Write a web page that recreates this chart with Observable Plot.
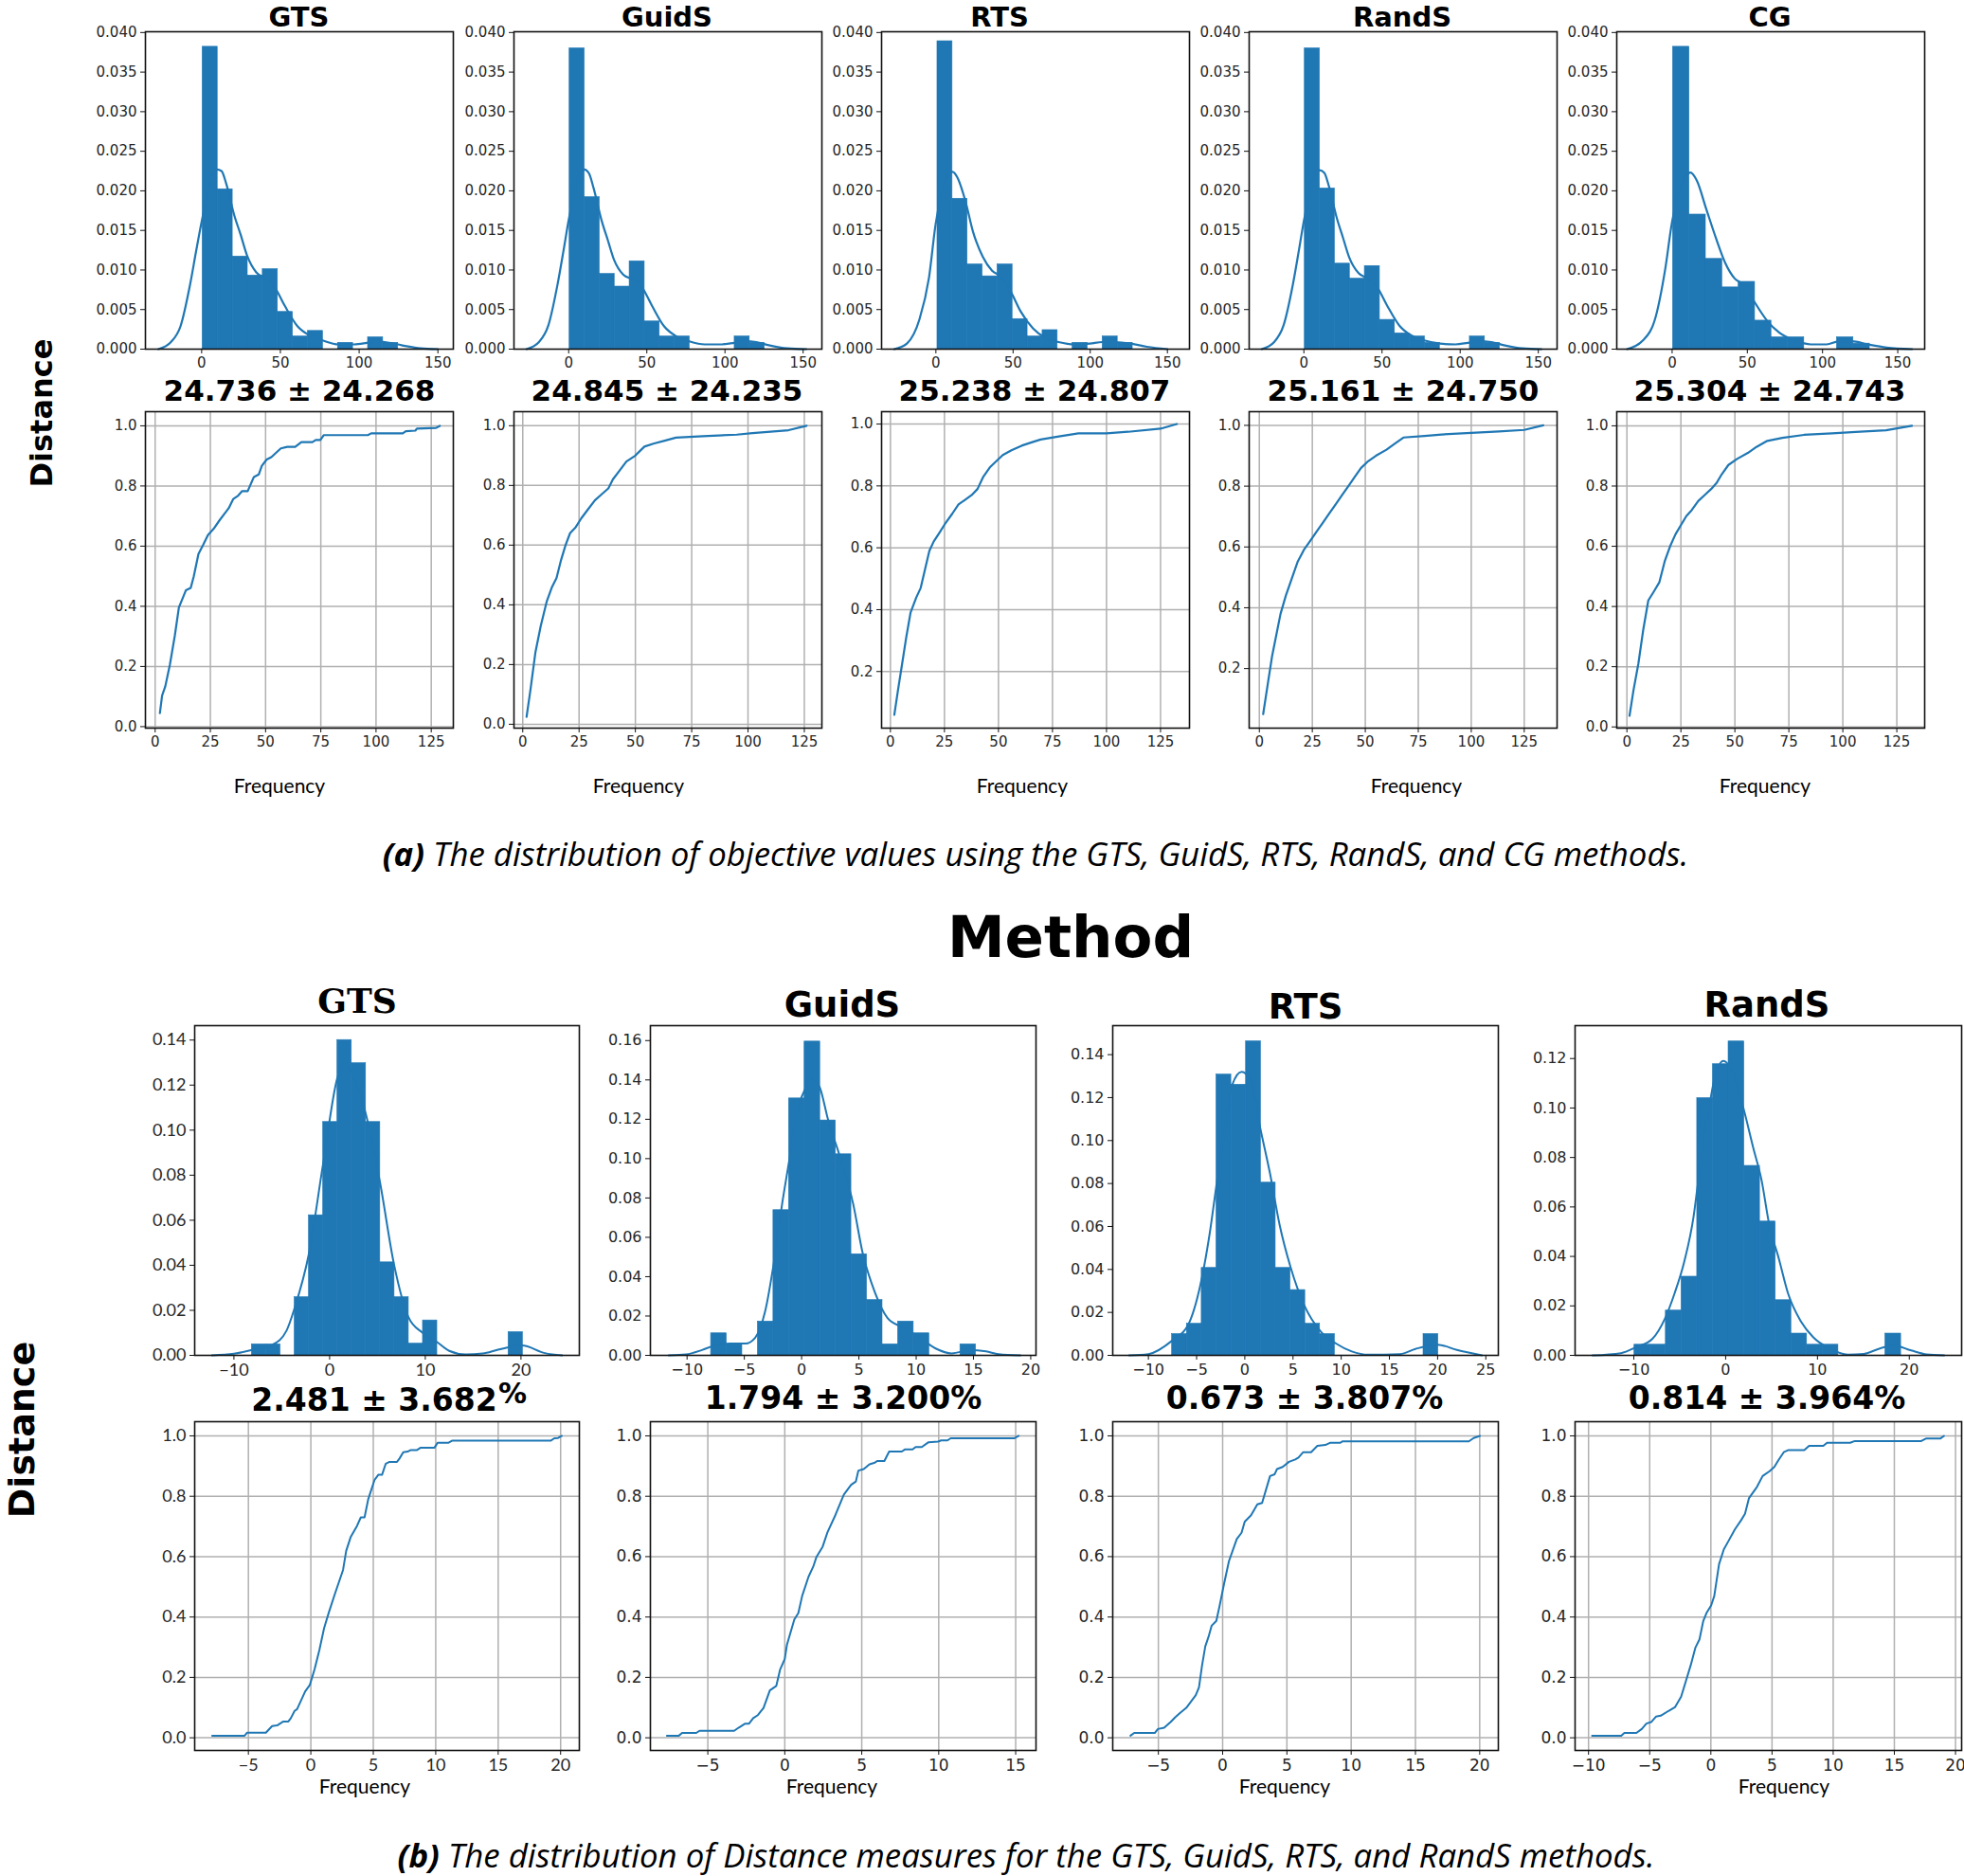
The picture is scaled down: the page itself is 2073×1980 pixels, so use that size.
<!DOCTYPE html>
<html><head><meta charset="utf-8">
<script src="https://cdn.jsdelivr.net/npm/d3@7"></script>
<script src="https://cdn.jsdelivr.net/npm/@observablehq/plot@0.6"></script>
<style>
body{margin:0;background:#fff;}
#root{position:relative;width:2073px;height:1980px;overflow:hidden;background:#fff;}
</style></head><body><div id="root"></div>
<script>
// ---------------- DATA ----------------
const topMethods = ["GTS", "GuidS", "RTS", "RandS", "CG"];
const topStats = ["24.736 ± 24.268", "24.845 ± 24.235", "25.238 ± 24.807", "25.161 ± 24.750", "25.304 ± 24.743"];
const bottomMethods = ["GTS", "GuidS", "RTS", "RandS"];
const bottomStats = ["2.481 ± 3.682", "1.794 ± 3.200", "0.673 ± 3.807", "0.814 ± 3.964"];

const topHistTicksY = [0, 0.005, 0.01, 0.015, 0.02, 0.025, 0.03, 0.035, 0.04];
const topHistTicksX = [0, 50, 100, 150];
const topCdfTicksX = [0, 25, 50, 75, 100, 125];
const cdfTicksY = [0, 0.2, 0.4, 0.6, 0.8, 1.0];

// top-row histogram bins (first edge, bin width, densities)
const topBinStart = [0.6, 0.6, 1.0, 0.6, 0.6];
const topBinWidth = [9.55, 9.6, 9.73, 9.6, 10.9];
const topHistGTS = [0.0382, 0.0202, 0.0117, 0.0093, 0.0101, 0.0047, 0.0016, 0.0023, 0, 0.0008, 0, 0.0015, 0.0008];
const topHistGuidS = [0.0380, 0.0192, 0.0095, 0.0079, 0.0111, 0.0035, 0.0016, 0.0016, 0, 0, 0, 0.0016, 0.0008];
const topHistRTS = [0.0389, 0.0190, 0.0107, 0.0092, 0.0107, 0.0038, 0.0016, 0.0024, 0, 0.0008, 0, 0.0016, 0.0008];
const topHistRandS = [0.0380, 0.0203, 0.0108, 0.0089, 0.0105, 0.0037, 0.0020, 0.0016, 0.0008, 0, 0, 0.0016, 0.0008];
const topHistCG = [0.0382, 0.0170, 0.0114, 0.0078, 0.0085, 0.0036, 0.0015, 0.0015, 0, 0, 0.0015, 0.0007];

// top-row KDE curves [value, density]
const topKdeGTS = [[-27.5,0],[-19.5,0.0009],[-13.4,0.0029],[-7.4,0.0081],[-3.4,0.0125],[0,0.0161],[9.6,0.0227],[12.6,0.0225],[15.6,0.0209],[20.7,0.0169],[24.7,0.0145],[28.7,0.0119],[34.7,0.0097],[40.7,0.0089],[46.7,0.0077],[52.7,0.0055],[60.8,0.0029],[68.8,0.0017],[76.8,0.0011],[86.8,0.0006],[96.9,0.0006],[104.9,0.0008],[110.9,0.001],[118.9,0.0008],[126.9,0.0005],[139,0.0001],[150,0]];
const topKdeGuidS = [[-27,0],[-19,0.0009],[-13,0.003],[-7,0.0083],[-3,0.0128],[0,0.0163],[10,0.0227],[13,0.0222],[16,0.0203],[21,0.0163],[25,0.0138],[29,0.0113],[35,0.0094],[41,0.0088],[47,0.0078],[53,0.0056],[61,0.0029],[69,0.0016],[77,0.001],[87,0.0006],[97,0.0006],[106,0.0008],[113,0.001],[120,0.0009],[128,0.0005],[140,0.0001],[152,0]];
const topKdeRTS = [[-27,0],[-18.8,0.0007],[-10.6,0.0038],[-4.5,0.009],[0,0.016],[10.8,0.0224],[13.9,0.0217],[19,0.0188],[24.1,0.0148],[30.3,0.0117],[36.4,0.0099],[42.6,0.0091],[48.7,0.0072],[54.8,0.0048],[63,0.0026],[71.2,0.0014],[79.4,0.0009],[89.6,0.0006],[99.8,0.0007],[108,0.0009],[116.2,0.0009],[126.4,0.0007],[136.7,0.0003],[150,0]];
const topKdeRandS = [[-27,0],[-19,0.0009],[-13,0.003],[-7,0.0082],[-3,0.0127],[0,0.0162],[10,0.0226],[13,0.0223],[16,0.0206],[21,0.0166],[25,0.0141],[29,0.0116],[35,0.0096],[41,0.0089],[47,0.0078],[53,0.0056],[61,0.003],[69,0.0017],[77,0.0011],[87,0.0007],[97,0.0006],[105,0.0008],[112,0.001],[120,0.0009],[128,0.0005],[140,0.0001],[152,0]];
const topKdeCG = [[-30,0],[-19.4,0.0011],[-10.9,0.0041],[-4.6,0.0101],[0,0.0161],[12.2,0.0223],[16.4,0.0213],[22.7,0.0177],[29,0.0141],[35.3,0.0109],[41.7,0.0089],[48,0.0081],[54.3,0.0061],[62.7,0.0037],[71.1,0.0021],[81.6,0.0011],[92.2,0.0006],[102.7,0.0006],[111.1,0.001],[119.5,0.001],[130,0.0006],[142.6,0.0002],[159.5,0]];

// top-row empirical CDFs [value, cumulative share]
const topCdfGTS = [[2.15,0.045],[3.15,0.103],[4.6,0.134],[6.7,0.207],[8.9,0.302],[10.75,0.396],[12.2,0.422],[13.9,0.453],[16.1,0.461],[17.5,0.5],[19.6,0.574],[21.8,0.605],[23.9,0.637],[26.5,0.658],[28.96,0.684],[31.1,0.705],[33.3,0.726],[35.4,0.757],[37.6,0.768],[39.4,0.783],[41.9,0.783],[44.7,0.83],[46.9,0.838],[48.3,0.867],[50.5,0.888],[52.6,0.896],[56.9,0.925],[59.8,0.93],[63.4,0.93],[66.2,0.946],[71.2,0.946],[72.7,0.953],[74.8,0.953],[76.3,0.969],[96.3,0.969],[97.8,0.975],[112.1,0.975],[113.5,0.982],[117.8,0.984],[118.5,0.991],[127.2,0.993],[128.9,1.0]];
const topCdfGuidS = [[1.7,0.025],[3.5,0.12],[5.6,0.24],[8,0.33],[10.6,0.41],[13,0.46],[15,0.49],[17,0.55],[19,0.6],[21,0.64],[23.5,0.66],[26,0.69],[29,0.72],[32,0.75],[35,0.77],[38,0.79],[40,0.82],[43,0.85],[46,0.88],[50,0.9],[54,0.93],[58,0.94],[63,0.95],[68,0.96],[80,0.965],[95,0.97],[102,0.975],[118,0.985],[126,1.0]];
const topCdfRTS = [[1.8,0.06],[3.5,0.14],[5.3,0.22],[7.3,0.31],[9.3,0.39],[12,0.44],[14,0.47],[16,0.53],[18,0.59],[20,0.62],[22.8,0.65],[25.5,0.68],[28.6,0.71],[31.5,0.74],[34.5,0.755],[37.5,0.77],[40.3,0.79],[43,0.83],[46,0.86],[49,0.88],[52,0.9],[56,0.915],[60.7,0.93],[65,0.94],[69.5,0.95],[78,0.96],[87,0.97],[100,0.97],[110,0.975],[125,0.985],[132.6,1.0]];
const topCdfRandS = [[1.8,0.05],[4,0.15],[6,0.24],[8,0.31],[10,0.38],[12.5,0.44],[15,0.49],[18,0.55],[21,0.59],[24,0.62],[27,0.65],[30,0.68],[33,0.71],[36,0.74],[39,0.77],[42,0.8],[45,0.83],[48,0.86],[51,0.88],[55,0.9],[60,0.92],[64,0.94],[68,0.96],[78,0.965],[86,0.97],[100,0.975],[113,0.98],[125,0.985],[134,1.0]];
const topCdfCG = [[1.2,0.037],[3,0.12],[5.3,0.21],[7.5,0.32],[9.9,0.42],[12.5,0.45],[15,0.48],[17.5,0.55],[20,0.6],[22.5,0.64],[25,0.67],[27.5,0.7],[30,0.72],[33,0.75],[36,0.77],[39,0.79],[41.5,0.81],[44,0.84],[47,0.87],[51,0.89],[56,0.91],[60,0.93],[65,0.95],[72,0.96],[82,0.97],[95,0.975],[106,0.98],[120,0.985],[132,1.0]];

// bottom-row histograms
const botBinStart = [-8.12, -7.9, -7.54, -9.93];
const botBinWidth = [1.49, 1.36, 1.534, 1.708];
const botHistGTS = [0.0049,0.0049,0,0.0258,0.0622,0.1036,0.14,0.1297,0.1036,0.0413,0.0258,0.0052,0.0155,0,0,0,0,0,0.0103];
const botHistGuidS = [0.0112,0.0056,0,0.0172,0.0738,0.1306,0.1595,0.1194,0.1022,0.0514,0.0281,0.0056,0.0172,0.0112,0,0,0.0056];
const botHistRTS = [0.0099,0.0147,0.0407,0.1307,0.126,0.1462,0.0804,0.0407,0.0304,0.0147,0.0099,0,0,0,0,0,0,0.0099];
const botHistRandS = [0.0043,0.0043,0.0181,0.0318,0.104,0.1177,0.1269,0.0766,0.0541,0.0223,0.0088,0.0043,0.0043,0,0,0,0.0088];

const botKdeGTS = [[-12.3,0],[-10,0.0007],[-8,0.0025],[-6,0.0047],[-4.5,0.011],[-3.66,0.021],[-2.17,0.045],[-0.68,0.085],[0.8,0.123],[1.6,0.13],[2.5,0.124],[3.8,0.107],[5.26,0.077],[6.75,0.04],[8.24,0.017],[9.72,0.01],[11.2,0.006],[12.5,0.002],[14.2,0.0004],[16,0.0008],[17.6,0.0025],[20.1,0.0044],[22.5,0.001],[24.3,0]];
const botKdeGuidS = [[-11.6,0],[-10.1,0.0005],[-8.7,0.0027],[-7.6,0.005],[-6.25,0.006],[-4.9,0.006],[-4.05,0.009],[-3.2,0.022],[-2.4,0.048],[-1.7,0.077],[-1.0,0.102],[-0.5,0.121],[0.36,0.136],[0.9,0.141],[1.6,0.136],[2.3,0.12],[3.4,0.10],[4.5,0.077],[5.33,0.052],[6.4,0.032],[7.5,0.019],[8.9,0.014],[10.3,0.009],[11.7,0.0035],[13.1,0.001],[14.7,0.0027],[16.1,0.002],[17.2,0.0006],[19.1,0]];
const botKdeRTS = [[-12,0],[-10,0.0006],[-7.5,0.007],[-5.9,0.014],[-4.6,0.033],[-3.6,0.058],[-2.95,0.079],[-2.1,0.105],[-1.3,0.126],[-0.33,0.132],[0.6,0.128],[1.64,0.105],[2.6,0.085],[3.6,0.061],[4.75,0.041],[6.2,0.023],[7.9,0.011],[9.5,0.0054],[11.1,0.0018],[12.8,0.0003],[16.1,0.0006],[17.7,0.003],[20,0.005],[22,0.0025],[24.6,0]];
const botKdeRandS = [[-14.5,0],[-11.4,0.0009],[-9.7,0.0034],[-8,0.0066],[-6.6,0.015],[-5.57,0.025],[-4.5,0.038],[-3.5,0.056],[-3,0.07],[-2.1,0.093],[-1.27,0.111],[-0.24,0.119],[0.9,0.113],[2,0.099],[3.0,0.084],[3.9,0.071],[4.74,0.053],[5.8,0.039],[6.8,0.025],[8.2,0.0137],[9.55,0.0073],[11.3,0.0028],[13.3,0.0003],[15.05,0.0006],[16.8,0.0028],[18.3,0.004],[20.2,0.002],[21.9,0.0004],[23.8,0]];

const botCdfGTS = [[-7.9,0.007],[-5.3,0.007],[-5.1,0.017],[-3.6,0.017],[-3.1,0.039],[-2.7,0.041],[-2.2,0.054],[-1.8,0.054],[-1.6,0.065],[-1.3,0.089],[-1.1,0.095],[-0.45,0.154],[-0.08,0.175],[0.3,0.227],[0.68,0.29],[1.06,0.363],[1.44,0.415],[1.94,0.478],[2.58,0.556],[2.83,0.619],[3.2,0.666],[3.7,0.702],[4.0,0.73],[4.3,0.73],[4.6,0.791],[5.1,0.854],[5.4,0.871],[5.7,0.871],[6.0,0.908],[6.3,0.914],[6.9,0.914],[7.1,0.925],[7.4,0.946],[7.75,0.948],[8.0,0.953],[8.5,0.953],[8.8,0.961],[9.9,0.961],[10.15,0.977],[11.0,0.977],[11.3,0.984],[19.2,0.984],[19.5,0.992],[19.8,0.993],[20.1,1.0]];
const botCdfGuidS = [[-7.66,0.007],[-6.88,0.007],[-6.67,0.016],[-5.75,0.016],[-5.54,0.023],[-3.29,0.023],[-2.98,0.034],[-2.57,0.047],[-2.32,0.047],[-2.05,0.065],[-1.75,0.075],[-1.38,0.099],[-0.97,0.157],[-0.55,0.172],[-0.31,0.225],[0,0.261],[0.14,0.308],[0.62,0.392],[0.88,0.413],[1.13,0.47],[1.54,0.533],[1.85,0.567],[2.05,0.598],[2.46,0.633],[2.77,0.68],[3.29,0.738],[3.84,0.806],[4.31,0.838],[4.62,0.849],[4.78,0.885],[5.13,0.89],[5.5,0.906],[5.85,0.911],[6.0,0.917],[6.47,0.917],[6.78,0.948],[7.6,0.948],[7.8,0.955],[8.3,0.955],[8.5,0.963],[8.9,0.963],[9.34,0.979],[9.96,0.981],[10.16,0.985],[10.57,0.985],[10.78,0.992],[14.9,0.992],[15.2,1.0]];
const botCdfRTS = [[-7.17,0.007],[-6.88,0.016],[-5.28,0.016],[-5.04,0.029],[-4.55,0.033],[-4.05,0.052],[-3.69,0.068],[-3.32,0.082],[-2.83,0.099],[-2.46,0.12],[-2.09,0.141],[-1.84,0.167],[-1.6,0.24],[-1.35,0.303],[-1.1,0.334],[-0.86,0.371],[-0.49,0.387],[-0.25,0.434],[0.12,0.512],[0.49,0.585],[1.1,0.658],[1.47,0.679],[1.72,0.716],[2.21,0.737],[2.7,0.773],[3.07,0.778],[3.69,0.867],[4.05,0.873],[4.23,0.89],[4.67,0.897],[5.16,0.914],[5.65,0.922],[5.9,0.928],[6.27,0.946],[6.88,0.946],[7.37,0.967],[7.99,0.97],[8.35,0.977],[9.14,0.977],[9.34,0.982],[19.16,0.982],[19.53,0.993],[20.02,1.0]];
const botCdfRandS = [[-9.71,0.007],[-7.33,0.007],[-7.07,0.016],[-6.09,0.016],[-5.65,0.029],[-5.27,0.047],[-4.88,0.052],[-4.49,0.07],[-4.1,0.073],[-3.46,0.089],[-2.94,0.101],[-2.43,0.136],[-2.04,0.188],[-1.65,0.24],[-1.27,0.298],[-0.93,0.326],[-0.62,0.387],[-0.36,0.413],[0.03,0.439],[0.28,0.47],[0.67,0.575],[1.06,0.624],[1.39,0.648],[1.96,0.69],[2.48,0.721],[2.79,0.742],[3.12,0.794],[3.77,0.831],[4.23,0.867],[4.8,0.883],[5.19,0.897],[5.53,0.92],[5.96,0.946],[6.35,0.953],[7.64,0.953],[8.03,0.967],[9.19,0.967],[9.5,0.977],[11.39,0.977],[11.77,0.983],[17.2,0.983],[17.58,0.991],[18.75,0.991],[19.06,1.0]];

const botHistTicksY = [[0,0.02,0.04,0.06,0.08,0.10,0.12,0.14],[0,0.02,0.04,0.06,0.08,0.10,0.12,0.14,0.16],[0,0.02,0.04,0.06,0.08,0.10,0.12,0.14],[0,0.02,0.04,0.06,0.08,0.10,0.12]];
const botHistTicksX = [[-10,0,10,20],[-10,-5,0,5,10,15,20],[-10,-5,0,5,10,15,20,25],[-10,0,10,20]];
const botCdfTicksX = [[-5,0,5,10,15,20],[-5,0,5,10,15],[-5,0,5,10,15,20],[-10,-5,0,5,10,15,20]];

// ---------------- LAYOUT ----------------
const BLUE = "#1f77b4";
const root = document.getElementById("root");

function panel(o) {
  const ml = 70, mr = 10, mt = 10, mb = 36;
  const fs = o.fontSize;
  const inY = t => t >= o.yDomain[0] && t <= o.yDomain[1];
  const yTicks = o.yTicks.filter(inY);
  const marks = [];
  if (o.grid) {
    marks.push(Plot.gridX({ticks: o.xTicks, stroke: "#b0b0b0", strokeOpacity: 1, strokeWidth: 1.5}));
    marks.push(Plot.gridY({ticks: yTicks, stroke: "#b0b0b0", strokeOpacity: 1, strokeWidth: 1.5}));
  }
  marks.push(...o.marks);
  marks.push(Plot.axisX({ticks: o.xTicks, tickFormat: o.xFmt, tickSize: 5, tickPadding: 4, label: null, fontSize: fs, stroke: "#111", fill: "#262626"}));
  marks.push(Plot.axisY({ticks: yTicks, tickFormat: o.yFmt, tickSize: 5, tickPadding: 4, label: null, fontSize: fs, stroke: "#111", fill: "#262626"}));
  marks.push(Plot.frame({stroke: "#111", strokeWidth: 1.6}));
  const svg = Plot.plot({
    width: o.w + ml + mr, height: o.h + mt + mb,
    marginLeft: ml, marginRight: mr, marginTop: mt, marginBottom: mb,
    x: {domain: o.xDomain}, y: {domain: o.yDomain},
    style: {fontFamily: o.font || "DejaVu Sans", fontSize: fs + "px", background: "transparent", overflow: "visible", color: "#262626"},
    marks
  });
  svg.style.position = "absolute";
  svg.style.left = (o.left - ml) + "px";
  svg.style.top = (o.top - mt) + "px";
  root.appendChild(svg);
}

function binsOf(start, width, heights) {
  return heights.map((v, i) => ({x1: start + i * width, x2: start + (i + 1) * width, y: v})).filter(d => d.y > 0);
}

// top row
const topHists = [topHistGTS, topHistGuidS, topHistRTS, topHistRandS, topHistCG];
const topKdes = [topKdeGTS, topKdeGuidS, topKdeRTS, topKdeRandS, topKdeCG];
const topCdfs = [topCdfGTS, topCdfGuidS, topCdfRTS, topCdfRandS, topCdfCG];
const topLeft = [153, 542, 930, 1318, 1706];
const topHistX = [[-35.7, 159.8], [-35, 162], [-35.2, 164.3], [-35, 162], [-36.8, 167.9]];
const topCdfX = [[-4.4, 135], [-3.9, 132.8], [-4.1, 138.4], [-4.8, 140.5], [-4.7, 137.9]];
const topCdfY = [[-0.005, 1.047], [-0.013, 1.047], [0.017, 1.04], [0.004, 1.045], [-0.004, 1.047]];

topMethods.forEach((m, i) => {
  panel({
    left: topLeft[i], top: 33, w: 325, h: 335, fontSize: 15,
    xDomain: topHistX[i], yDomain: [0, 0.0401],
    xTicks: topHistTicksX, yTicks: topHistTicksY, xFmt: d3.format("d"), yFmt: d3.format(".3f"),
    marks: [
      Plot.rectY(binsOf(topBinStart[i], topBinWidth[i], topHists[i]), {x1: "x1", x2: "x2", y: "y", fill: BLUE, stroke: BLUE, strokeWidth: 0.6, inset: 0}),
      Plot.line(topKdes[i], {x: d => d[0], y: d => d[1], stroke: BLUE, strokeWidth: 2.2, curve: "monotone-x"})
    ]
  });
  panel({
    left: topLeft[i], top: 434, w: 325, h: 334, fontSize: 15, grid: true,
    xDomain: topCdfX[i], yDomain: topCdfY[i],
    xTicks: topCdfTicksX, yTicks: cdfTicksY, xFmt: d3.format("d"), yFmt: d3.format(".1f"),
    marks: [
      Plot.line(topCdfs[i], {x: d => d[0], y: d => d[1], stroke: BLUE, strokeWidth: 2.2})
    ]
  });
});

// bottom row
const botHists = [botHistGTS, botHistGuidS, botHistRTS, botHistRandS];
const botKdes = [botKdeGTS, botKdeGuidS, botKdeRTS, botKdeRandS];
const botCdfs = [botCdfGTS, botCdfGuidS, botCdfRTS, botCdfRandS];
const botLeft = [205, 686, 1174, 1662];
const botW = [406, 407, 407, 408];
const botHistX = [[-14.1, 26.1], [-13.2, 20.46], [-13.7, 26.3], [-16.4, 25.7]];
const botHistY = [[0, 0.1464], [0, 0.1676], [0, 0.1535], [0, 0.1333]];
const botCdfX = [[-9.3, 21.5], [-8.73, 16.32], [-8.55, 21.45], [-11.1, 20.5]];

bottomMethods.forEach((m, i) => {
  const font = i === 0 ? "Lato" : "DejaVu Sans";
  panel({
    left: botLeft[i], top: 1082, w: botW[i], h: 348, fontSize: i === 0 ? 18 : 16, font,
    xDomain: botHistX[i], yDomain: botHistY[i],
    xTicks: botHistTicksX[i], yTicks: botHistTicksY[i], xFmt: d3.format("d"), yFmt: d3.format(".2f"),
    marks: [
      Plot.rectY(binsOf(botBinStart[i], botBinWidth[i], botHists[i]), {x1: "x1", x2: "x2", y: "y", fill: BLUE, stroke: BLUE, strokeWidth: 0.6, inset: 0}),
      Plot.line(botKdes[i], {x: d => d[0], y: d => d[1], stroke: BLUE, strokeWidth: 2, curve: "monotone-x"})
    ]
  });
  panel({
    left: botLeft[i], top: 1500, w: botW[i], h: 347, fontSize: i === 0 ? 18 : 17, font, grid: true,
    xDomain: botCdfX[i], yDomain: [-0.042, 1.047],
    xTicks: botCdfTicksX[i], yTicks: cdfTicksY, xFmt: d3.format("d"), yFmt: d3.format(".1f"),
    marks: [
      Plot.line(botCdfs[i], {x: d => d[0], y: d => d[1], stroke: BLUE, strokeWidth: 2})
    ]
  });
});

// ---------------- TEXT OVERLAY ----------------
const ov = d3.select(root).append("svg")
  .attr("width", 2073).attr("height", 1980)
  .style("position", "absolute").style("left", "0px").style("top", "0px").style("pointer-events", "none");

const topTitleX = [315.5, 704, 1055, 1480, 1868];
const topStatX = [316, 704, 1092, 1481, 1868];
const topFreqX = [295, 674, 1079, 1495, 1863];
topMethods.forEach((m, i) => {
  ov.append("text").attr("x", topTitleX[i]).attr("y", 27.5).attr("text-anchor", "middle")
    .style("font-family", "DejaVu Sans").style("font-weight", "bold").style("font-size", "29px").text(m);
  ov.append("text").attr("x", topStatX[i]).attr("y", 423).attr("text-anchor", "middle")
    .style("font-family", "DejaVu Sans").style("font-weight", "bold").style("font-size", "31px").text(topStats[i]);
  ov.append("text").attr("x", topFreqX[i]).attr("y", 837).attr("text-anchor", "middle")
    .style("font-family", "Lato").style("font-size", "21px").text("Frequency");
});

const botTitleX = [377, 889, 1378, 1865];
const botTitleY = [1069, 1073, 1075, 1073];
const botStatX = [395, 890, 1377, 1865];
const botFreqX = [385, 878, 1356, 1883];
bottomMethods.forEach((m, i) => {
  ov.append("text").attr("x", botTitleX[i]).attr("y", botTitleY[i]).attr("text-anchor", "middle")
    .style("font-family", i === 0 ? "DejaVu Serif" : "DejaVu Sans").style("font-weight", "bold").style("font-size", i === 0 ? "36px" : "37px").text(m);
  const st = ov.append("text").attr("x", botStatX[i]).attr("y", i === 0 ? 1489 : 1487).attr("text-anchor", "middle")
    .style("font-family", "DejaVu Sans").style("font-weight", "bold").style("font-size", "33px");
  if (i === 0) {
    st.text(bottomStats[i]);
    ov.append("text").attr("x", 541).attr("y", 1481).attr("text-anchor", "middle")
      .style("font-family", "DejaVu Sans").style("font-weight", "bold").style("font-size", "30px").text("%");
  } else {
    st.text(bottomStats[i] + "%");
  }
  ov.append("text").attr("x", botFreqX[i]).attr("y", 1893).attr("text-anchor", "middle")
    .style("font-family", "Lato").style("font-size", "21px").text("Frequency");
});

// Distance labels
ov.append("text").attr("transform", "translate(55,436) rotate(-90)").attr("text-anchor", "middle")
  .style("font-family", "DejaVu Sans").style("font-weight", "bold").style("font-size", "32px").text("Distance");
ov.append("text").attr("transform", "translate(36,1509) rotate(-90)").attr("text-anchor", "middle")
  .style("font-family", "DejaVu Sans").style("font-weight", "bold").style("font-size", "38px").text("Distance");

// Method
ov.append("text").attr("x", 1130).attr("y", 1010).attr("text-anchor", "middle")
  .style("font-family", "DejaVu Sans").style("font-weight", "bold").style("font-size", "61px").text("Method");

// captions
function caption(x, y, tag, rest) {
  const t = ov.append("text").attr("x", x).attr("y", y).attr("text-anchor", "middle")
    .style("font-family", "Open Sans").style("font-style", "italic").style("font-size", "34.8px");
  t.append("tspan").style("font-weight", "bold").text(tag);
  t.append("tspan").text(" " + rest);
}
caption(1093, 914, "(a)", "The distribution of objective values using the GTS, GuidS, RTS, RandS, and CG methods.");
caption(1083, 1971, "(b)", "The distribution of Distance measures for the GTS, GuidS, RTS, and RandS methods.");
</script>
</body></html>
